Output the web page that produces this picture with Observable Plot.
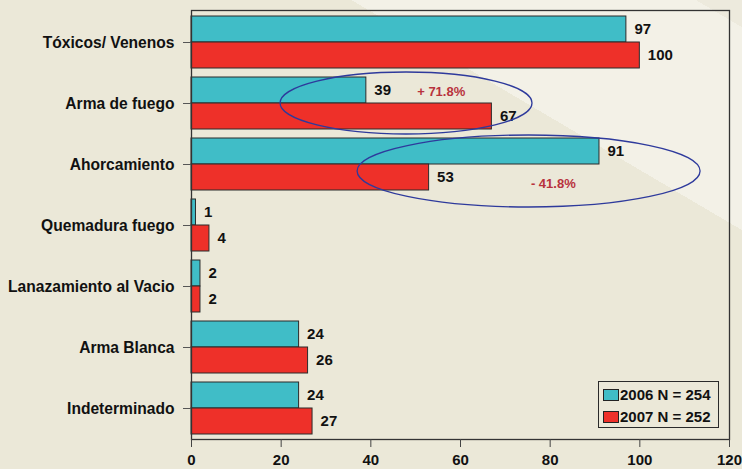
<!DOCTYPE html>
<html>
<head>
<meta charset="utf-8">
<script src="https://cdn.jsdelivr.net/npm/d3@7"></script>
<script src="https://cdn.jsdelivr.net/npm/@observablehq/plot@0.6"></script>
<style>
  html, body { margin: 0; padding: 0; }
  body {
    width: 742px; height: 469px; overflow: hidden;
    background: linear-gradient(30.5deg, #EBE8D8 0%, #EBE8D8 74.6%, #F3F1E7 74.6%, #F3F1E7 97%, #EDEADD 97%);
    font-family: "Liberation Sans", Arial, sans-serif;
  }
  #chart { position: relative; width: 742px; height: 469px; }
  #legend {
    position: absolute; left: 598px; top: 381px; width: 119px; height: 45px;
    border: 1.5px solid #2a2a2a; box-sizing: content-box;
    font-weight: bold; font-size: 15px; color: #111;
  }
  #legend .row { position: absolute; left: 4px; display: flex; align-items: center; white-space: nowrap; }
  #legend .sw { width: 14px; height: 10px; border: 1px solid #222; margin-right: 1px; }
</style>
</head>
<body>
<div id="chart"></div>
<script>
// ---- data ----
const categories = ["Tóxicos/ Venenos", "Arma de fuego", "Ahorcamiento", "Quemadura fuego", "Lanazamiento al Vacio", "Arma Blanca", "Indeterminado"];
const values2006 = [97, 39, 91, 1, 2, 24, 24];
const values2007 = [100, 67, 53, 4, 2, 26, 27];
const seriesLabels = ["2006 N = 254", "2007 N = 252"];
const seriesColors = ["#40BDC7", "#EE3029"];
const xTicks = [0, 20, 40, 60, 80, 100, 120];

// annotations: category compared, text anchor value & offset, ellipse center value & half-width (value units)
const annotCategories = ["Arma de fuego", "Ahorcamiento"];
const annotTextX = [55.7, 80.7];
const annotTextDy = [-11.5, 19];
const annotEllipseX = [47.96, 75.3];
const annotEllipseRx = [28.1, 38.25];
const annotEllipseDy = [0, 7];
const annotEllipseRy = [31, 36];

const d2006 = categories.map((c, i) => ({category: c, value: values2006[i]}));
const d2007 = categories.map((c, i) => ({category: c, value: values2007[i]}));

function pctChange(cat) {
  const i = categories.indexOf(cat);
  const p = (values2007[i] - values2006[i]) / values2006[i] * 100;
  return (p >= 0 ? "+ " : "- ") + Math.abs(p).toFixed(1) + "%";
}

const annotTextMarks = annotCategories.map((c, k) =>
  Plot.text([{category: c, x: annotTextX[k], label: pctChange(c)}], {
    x: "x", y: "category", text: "label", dy: annotTextDy[k],
    fill: "#B8323D", fontSize: 13, fontWeight: "bold", textAnchor: "middle"
  })
);

const plot = Plot.plot({
  width: 742,
  height: 469,
  marginLeft: 191,
  marginRight: 13,
  marginTop: 10,
  marginBottom: 30,
  style: {background: "transparent", fontFamily: "'Liberation Sans', Arial, sans-serif", fontSize: "15px", fontWeight: "bold", color: "#111"},
  x: {domain: [0, 120], ticks: xTicks, label: null},
  y: {domain: categories, paddingInner: 0.15, paddingOuter: 0.075, label: null},
  marks: [
    Plot.barX(d2006, {x: "value", y: "category", fill: seriesColors[0], stroke: "#2b2b2b", strokeWidth: 1, insetBottom: 26, insetTop: 0}),
    Plot.barX(d2007, {x: "value", y: "category", fill: seriesColors[1], stroke: "#2b2b2b", strokeWidth: 1, insetTop: 26, insetBottom: 0}),
    Plot.text(d2006, {x: "value", y: "category", text: "value", dx: 8, dy: -13, textAnchor: "start", fontSize: 15, fontWeight: "bold", fill: "#111"}),
    Plot.text(d2007, {x: "value", y: "category", text: "value", dx: 8, dy: 13, textAnchor: "start", fontSize: 15, fontWeight: "bold", fill: "#111"}),
    ...annotTextMarks,
    Plot.frame({stroke: "#333", strokeWidth: 1.3}),
    Plot.axisX({ticks: xTicks, tickSize: 8, tickPadding: 7, fontSize: 15, fontWeight: "bold", stroke: "#444", label: null}),
    Plot.axisY({tickSize: 8, tickPadding: 9, fontSize: 15.6, fontWeight: "bold", stroke: "#555", label: null})
  ]
});

// ellipses drawn through the plot's own scales
const xs = plot.scale("x");
const ys = plot.scale("y");
const svg = d3.select(plot);
annotCategories.forEach((c, k) => {
  const cy = ys.apply(c) + ys.bandwidth / 2 + annotEllipseDy[k];
  const cx = xs.apply(annotEllipseX[k]);
  const rx = xs.apply(annotEllipseX[k] + annotEllipseRx[k]) - cx;
  svg.append("ellipse")
    .attr("cx", cx).attr("cy", cy)
    .attr("rx", rx).attr("ry", annotEllipseRy[k])
    .attr("fill", "none").attr("stroke", "#2E3A9C").attr("stroke-width", 1.3);
});

const chart = document.getElementById("chart");
chart.appendChild(plot);

// legend
const legend = document.createElement("div");
legend.id = "legend";
seriesLabels.forEach((lab, i) => {
  const row = document.createElement("div");
  row.className = "row";
  row.style.top = (i === 0 ? 4 : 26) + "px";
  const sw = document.createElement("div");
  sw.className = "sw";
  sw.style.background = seriesColors[i];
  const t = document.createElement("span");
  t.textContent = lab;
  row.appendChild(sw); row.appendChild(t);
  legend.appendChild(row);
});
chart.appendChild(legend);
</script>
</body>
</html>
